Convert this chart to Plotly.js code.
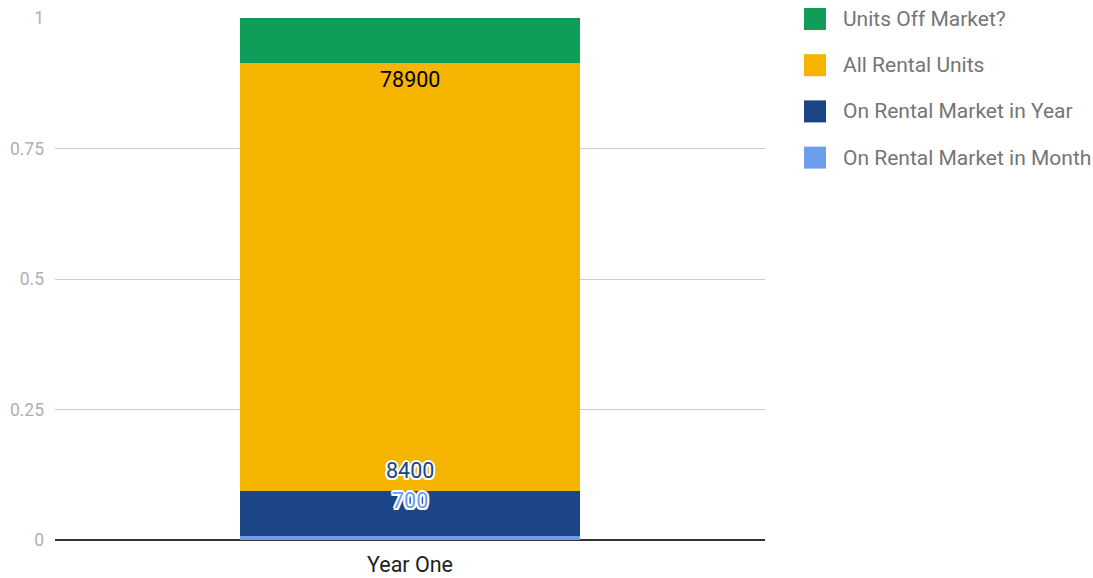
<!DOCTYPE html>
<html>
<head>
<meta charset="utf-8">
<script src="https://cdn.plot.ly/plotly-3.0.1.min.js"></script>
<style>html,body{margin:0;padding:0;background:#fff}#chart{width:1093px;height:578px}</style>
</head>
<body>
<div id="chart"></div>
<script>
// ---- data ----
const categories = ["Year One"];
const seriesNames = ["On Rental Market in Month", "On Rental Market in Year", "All Rental Units", "Units Off Market?"];
const monthValues = [700];
const yearValues = [8400];
const rentalValues = [78900];
const offMarketValues = [8300];
const labelTexts = ["700", "8400", "78900", null];
const yTickVals = [0, 0.25, 0.5, 0.75, 1];
const yTickText = ["0", "0.25", "0.5", "0.75", "1"];

// ---- styles ----
const colors = ["#6d9eeb", "#1c4587", "#f4b400", "#0f9d58"];
const labelShift = [36, 20, -17, 0];
const labelColor = ["#6d9eeb", "#1c4587", "#000000", "#000"];
const labelHalo = [true, true, false, false];

const seriesValues = [monthValues, yearValues, rentalValues, offMarketValues];
const FONT = "Roboto, 'Noto Sans', sans-serif";

const traces = seriesValues.map((vals, i) => ({
  type: "bar",
  x: categories,
  y: vals,
  name: seriesNames[i],
  marker: {color: colors[i], line: {width: 0}},
  hoverinfo: "none",
  showlegend: false
}));

// normalized cumulative tops for label placement
const total = seriesValues.reduce((s, v) => s + v[0], 0);
let cum = 0;
const annotations = [];
seriesValues.forEach((vals, i) => {
  cum += vals[0];
  if (labelTexts[i] === null) return;
  const halo = "-1.5px -1.5px 0 #fff, 1.5px -1.5px 0 #fff, -1.5px 1.5px 0 #fff, 1.5px 1.5px 0 #fff, 0 -2px 0 #fff, 0 2px 0 #fff, -2px 0 0 #fff, 2px 0 0 #fff";
  annotations.push({
    x: categories[0], y: cum / total, xref: "x", yref: "y",
    text: labelTexts[i], showarrow: false, yanchor: "middle",
    yshift: labelShift[i],
    font: {family: FONT, size: 21.5, color: labelColor[i], shadow: labelHalo[i] ? halo : "none"}
  });
});

// manual legend (top to bottom: reversed order)
const L = 55, W = 710, T = 18, H = 522;
const px2x = p => (p - L) / W;
const px2y = p => (T + H - p) / H;
const shapes = [];
const legendOrder = [3, 2, 1, 0];
legendOrder.forEach((idx, k) => {
  const cy = 19 + k * 46.2;
  shapes.push({
    type: "rect", xref: "paper", yref: "paper",
    x0: px2x(804), x1: px2x(826), y0: px2y(cy - 11), y1: px2y(cy + 11),
    fillcolor: colors[idx], line: {width: 0}
  });
  annotations.push({
    xref: "paper", yref: "paper", x: px2x(841), y: px2y(cy),
    xanchor: "left", yanchor: "middle", showarrow: false,
    text: seriesNames[idx],
    font: {family: FONT, size: 21, color: "#757575"}
  });
});

const layout = {
  width: 1093, height: 578,
  margin: {l: L, r: 1093 - L - W, t: T, b: 578 - T - H},
  paper_bgcolor: "#fff", plot_bgcolor: "#fff",
  barmode: "stack", barnorm: "fraction", bargap: 0.52,
  barcornerradius: 2,
  showlegend: false,
  font: {family: FONT},
  xaxis: {
    type: "category", showgrid: false, zeroline: false, showline: false,
    ticks: "", tickfont: {family: FONT, size: 21.5, color: "#222"},
    ticklabelstandoff: 9
  },
  yaxis: {
    range: [0, 1], tickvals: yTickVals, ticktext: yTickText,
    showgrid: true, gridcolor: "#cccccc", gridwidth: 1,
    zeroline: true, zerolinecolor: "#333333", zerolinewidth: 2,
    showline: false, ticks: "",
    tickfont: {family: FONT, size: 17.5, color: "#b0b0b0"},
    ticklabelstandoff: 10, fixedrange: true
  },
  shapes: shapes,
  annotations: annotations
};

Plotly.newPlot("chart", traces, layout, {staticPlot: true, displayModeBar: false});
</script>
</body>
</html>
